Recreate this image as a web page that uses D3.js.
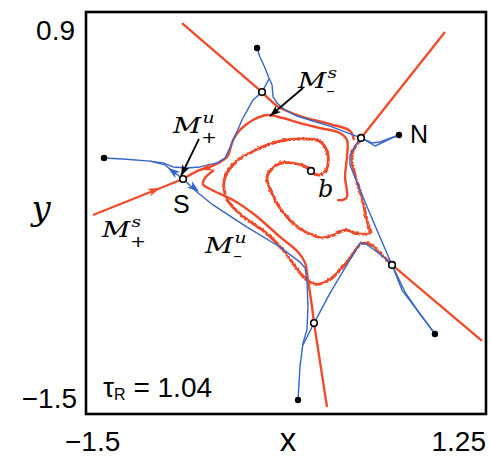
<!DOCTYPE html>
<html>
<head>
<meta charset="utf-8">
<script src="https://cdn.jsdelivr.net/npm/d3@7"></script>
<style>
body{margin:0;background:#fff;}
text{font-family:"Liberation Sans",Arial,sans-serif;}
</style>
</head>
<body>
<svg id="chart" width="491" height="458"></svg>
<script>
// axis ranges and tick labels
const xDomain = [-1.5, 1.25];
const yDomain = [-1.5, 0.9];
const xTickLabels = ["\u22121.5", "1.25"];
const yTickLabels = ["0.9", "\u22121.5"];
const tauR = "1.04";

// fixed points
const saddles = [[-0.29,0.422],[0.391,0.148],[0.604,-0.61],[0.0675,-0.957],[-0.833,-0.097]];
const sinks = [[-0.324,0.685],[0.652,0.166],[-1.376,0.028],[0.899,-1.022],[-0.0425,-1.416]];
const focusB = [0.047,-0.049];

// stable manifolds, outward branches (red)
const stableOutA = [[-0.84,0.834],[-0.29,0.422]];
const stableOutB = [[0.391,0.148],[0.968,0.781]];
const stableOutC = [[0.604,-0.61],[1.2225,-1.064]];
const stableOutD = [[0.0675,-0.957],[0.157,-1.458]];
const stableOutS = [[-1.452,-0.312],[-0.833,-0.097]];

// stable manifolds, inward branches spiralling from b (red)
const stableInS = [[-0.833,-0.097],[-0.716,-0.043],[-0.6475,-0.025],[-0.531,0.034],[-0.489,0.136],[-0.441,0.196],
  [-0.352,0.255],[-0.256,0.285],[-0.146,0.267],[-0.029,0.237],[0.109,0.207],[0.246,0.178],[0.294,0.136],
  [0.294,0.034],[0.281,-0.085],[0.294,-0.204],[0.267,-0.222],[0.226,-0.222]];
const stableInA = [[-0.29,0.422],[-0.235,0.375],[-0.187,0.339],[-0.118,0.309],[-0.008,0.273],[0.1775,0.231],
  [0.315,0.19],[0.3425,0.136]];
const stableInB = [[0.391,0.148],[0.3425,0.1],[0.322,0.04],[0.336,-0.043],[0.384,-0.181],[0.439,-0.384],
  [0.4525,-0.413],[0.363,-0.419],[0.281,-0.396],[0.198,-0.425],[0.1225,-0.443],[0.047,-0.425],[-0.0425,-0.384],
  [-0.118,-0.324],[-0.187,-0.246],[-0.235,-0.163],[-0.2625,-0.085],[-0.228,-0.031],[-0.166,0.004],
  [-0.084,0.004],[-0.008,-0.013],[0.047,-0.049]];
const stableInC = [[0.604,-0.61],[0.521,-0.539],[0.439,-0.479],[0.384,-0.479],[0.294,-0.581],[0.157,-0.7],
  [0.061,-0.718],[-0.029,-0.658],[-0.146,-0.521],[-0.269,-0.413],[-0.421,-0.318],[-0.531,-0.222],
  [-0.558,-0.103],[-0.489,-0.001],[-0.352,0.076],[-0.166,0.136],[-0.029,0.148],[0.095,0.136],[0.15,0.076],
  [0.157,-0.001],[0.136,-0.055],[0.088,-0.067],[0.047,-0.049]];
const stableInD = [[0.0675,-0.957],[0.054,-0.861],[0.026,-0.7],[0.006,-0.598],[-0.0425,-0.533],[-0.166,-0.443],
  [-0.338,-0.312],[-0.489,-0.222],[-0.634,-0.163],[-0.696,-0.127],[-0.682,-0.091],[-0.62,-0.043]];

// unstable manifolds (blue)
const unstableTop = [[-0.324,0.685],[-0.304,0.631],[-0.269,0.566],[-0.242,0.506],[-0.221,0.464],[-0.214,0.393],
  [-0.187,0.357],[-0.132,0.315],[-0.049,0.279],[0.061,0.249],[0.1775,0.219],[0.281,0.184],[0.391,0.148]];
const unstableAUp = [[-0.29,0.422],[-0.242,0.5]];
const unstableLeft = [[-1.376,0.028],[-1.246,0.022],[-1.06,0.01],[-0.971,-0.001],[-0.902,-0.025],[-0.806,-0.031],
  [-0.716,-0.025],[-0.599,-0.001],[-0.544,0.028],[-0.496,0.118],[-0.4275,0.255],[-0.352,0.375],[-0.29,0.422]];
const unstablePlus = [[-0.833,-0.097],[-0.888,-0.061],[-0.957,-0.013],[-1.06,0.01]];
const unstableMinus = [[-0.833,-0.097],[-0.737,-0.175],[-0.627,-0.252],[-0.393,-0.384],[-0.166,-0.503],
  [-0.029,-0.593],[0.006,-0.628],[0.019,-0.7],[0.026,-0.861],[0.019,-0.998],[-0.008,-1.076],[-0.029,-1.219],
  [-0.0425,-1.416]];
const unstableRight = [[0.391,0.148],[0.349,0.1],[0.315,0.046],[0.315,-0.013],[0.404,-0.204],[0.5,-0.401],
  [0.604,-0.61],[0.6725,-0.76],[0.776,-0.879],[0.899,-1.022]];
const unstableBottom = [[-0.008,-1.088],[0.0675,-0.957],[0.1775,-0.778],[0.281,-0.628],[0.384,-0.479],
  [0.425,-0.485],[0.521,-0.545],[0.604,-0.61],[0.693,-0.772],[0.796,-0.903],[0.899,-1.022]];
const unstableN = [[0.391,0.148],[0.466,0.118],[0.521,0.124],[0.652,0.166]];
const unstableN2 = [[0.391,0.148],[0.488,0.1],[0.576,0.136],[0.652,0.166]];

// flow arrows: [at, from]
const redArrows = [[[-0.991,-0.151],[-1.452,-0.312]],[[-0.716,-0.043],[-0.6475,-0.025]]];
const blueArrows = [[[-0.936,-0.031],[-0.833,-0.097]],[[-0.723,-0.175],[-0.833,-0.097]]];
// pointer arrows for the labels: [start, end]
const pointerMsMinus = [[-0.008,0.446],[-0.235,0.279]];
const pointerMuPlus = [[-0.723,0.142],[-0.847,-0.079]];

const RED = "#ef4b2a", BLUE = "#3565c9";
const W = 491, H = 458;
const margin = {left:86, top:12, right:5, bottom:44};
const svg = d3.select("#chart");
const x = d3.scaleLinear().domain(xDomain).range([margin.left, W - margin.right]);
const y = d3.scaleLinear().domain(yDomain).range([H - margin.bottom, margin.top]);

const defs = svg.append("defs");
defs.append("clipPath").attr("id","frameClip").append("rect")
  .attr("x",x(xDomain[0])).attr("y",y(yDomain[1]))
  .attr("width",x(xDomain[1])-x(xDomain[0])).attr("height",y(yDomain[0])-y(yDomain[1]));
let wig = defs.append("filter").attr("id","wiggle").attr("x","-5%").attr("y","-5%").attr("width","110%").attr("height","110%");
wig.append("feTurbulence").attr("type","turbulence").attr("baseFrequency","0.3").attr("numOctaves",1).attr("seed",3).attr("result","t");
wig.append("feDisplacementMap").attr("in","SourceGraphic").attr("in2","t").attr("scale",2.2)
  .attr("xChannelSelector","R").attr("yChannelSelector","G");

const line = d3.line().x(d => x(d[0])).y(d => y(d[1]));
const smooth = d3.line().x(d => x(d[0])).y(d => y(d[1])).curve(d3.curveCatmullRom.alpha(0.5));

const plot = svg.append("g").attr("clip-path","url(#frameClip)");

// red straight branches
plot.append("g").selectAll("path")
  .data([stableOutA, stableOutB, stableOutC, stableOutD, stableOutS])
  .enter().append("path")
    .attr("d", line).attr("fill","none").attr("stroke",RED).attr("stroke-width",2.3);

// red spirals
plot.append("g").attr("filter","url(#wiggle)").selectAll("path")
  .data([stableInB, stableInC])
  .enter().append("path")
    .attr("d", smooth).attr("fill","none").attr("stroke",RED).attr("stroke-width",2.9);
plot.append("g").selectAll("path")
  .data([stableInS, stableInA, stableInD])
  .enter().append("path")
    .attr("d", smooth).attr("fill","none").attr("stroke",RED).attr("stroke-width",2.4);

// blue
plot.append("g").selectAll("path")
  .data([unstableTop, unstableAUp, unstableLeft, unstablePlus, unstableMinus, unstableRight, unstableBottom, unstableN, unstableN2])
  .enter().append("path")
    .attr("d", line).attr("fill","none").attr("stroke",BLUE).attr("stroke-width",1.4)
    .attr("stroke-linejoin","round");

const head = (g, at, from, color, len, wid) => {
  let px = x(at[0]), py = y(at[1]);
  let ang = Math.atan2(py - y(from[1]), px - x(from[0])) * 180 / Math.PI;
  g.append("path")
    .attr("d", `M0,0 L${-len},${-wid/2} L${-len*0.75},0 L${-len},${wid/2} Z`)
    .attr("transform", `translate(${px},${py}) rotate(${ang})`)
    .attr("fill", color);
};
const arrowsG = svg.append("g");
redArrows.forEach(a => head(arrowsG, a[0], a[1], RED, 12, 8));
blueArrows.forEach(a => head(arrowsG, a[0], a[1], BLUE, 12, 8));

[pointerMsMinus, pointerMuPlus].forEach(p => {
  arrowsG.append("line")
    .attr("x1",x(p[0][0])).attr("y1",y(p[0][1]))
    .attr("x2",x(p[1][0])).attr("y2",y(p[1][1]))
    .attr("stroke","#000").attr("stroke-width",1.8);
  head(arrowsG, p[1], p[0], "#000", 11, 8);
});

// points
svg.append("g").selectAll("circle").data(sinks).enter().append("circle")
  .attr("cx", d => x(d[0])).attr("cy", d => y(d[1])).attr("r",3.2).attr("fill","#000");
svg.append("g").selectAll("circle").data(saddles.concat([focusB])).enter().append("circle")
  .attr("cx", d => x(d[0])).attr("cy", d => y(d[1])).attr("r",3.3)
  .attr("fill","#fff").attr("stroke","#000").attr("stroke-width",1.6);

// frame
svg.append("rect")
  .attr("x",x(xDomain[0])).attr("y",y(yDomain[1]))
  .attr("width",x(xDomain[1])-x(xDomain[0])).attr("height",y(yDomain[0])-y(yDomain[1]))
  .attr("fill","none").attr("stroke","#000").attr("stroke-width",2.6);

// tick labels
const tickSize = 28;
svg.append("text").attr("x",x(xDomain[0]) - 21).attr("y",451).attr("font-size",tickSize).text(xTickLabels[0]);
svg.append("text").attr("x",x(xDomain[1])).attr("y",451).attr("font-size",tickSize).attr("text-anchor","end").text(xTickLabels[1]);
svg.append("text").attr("x",x(xDomain[0]) - 11).attr("y",y(yDomain[1]) + 28).attr("font-size",tickSize).attr("text-anchor","end").text(yTickLabels[0]);
svg.append("text").attr("x",x(xDomain[0]) - 9).attr("y",y(yDomain[0]) - 6).attr("font-size",tickSize).attr("text-anchor","end").text(yTickLabels[1]);

// axis titles
svg.append("text").attr("x",(x(xDomain[0]) + x(xDomain[1])) / 2 + 2).attr("y",451)
  .attr("font-size",33).attr("text-anchor","middle").text("x");
svg.append("text").attr("x",41).attr("y",220)
  .attr("font-size",34).attr("text-anchor","middle")
  .style("font-family","'DejaVu Serif',serif").style("font-style","italic").text("y");

// point labels
const lab = (px, py, txt, size, italic) => {
  let t = svg.append("text").attr("x",px).attr("y",py).attr("font-size",size).text(txt);
  if (italic) t.style("font-family","'DejaVu Serif',serif").style("font-style","italic");
  return t;
};
lab(x(saddles[4][0]) - 10, y(saddles[4][1]) + 34, "S", 25, false);
lab(x(sinks[1][0]) + 11, y(sinks[1][1]) + 8, "N", 25, false);
lab(x(focusB[0]) + 7, y(focusB[1]) + 26, "b", 24, true);

// manifold labels: M with stacked super/subscript in one text element
const mLabel = (px, py, sup, sub) => {
  let t = svg.append("text")
    .attr("transform", `translate(${px},${py}) scale(1.25,1)`)
    .style("font-family","'DejaVu Serif',serif");
  t.append("tspan").attr("font-size",22).style("font-style","italic").text("M");
  let s = t.append("tspan").attr("font-size",15).attr("dx",1).attr("dy",-10).style("font-style","italic").text(sup);
  let w = s.node().getComputedTextLength();
  let plus = sub === "+";
  t.append("tspan").attr("font-size",plus ? 15 : 14).attr("dx",-w - 1)
    .attr("dy", plus ? 20 : 18).style("font-family","'DejaVu Sans',sans-serif").text(plus ? "+" : "\u2013");
};
mLabel(x(pointerMsMinus[0][0]) - 5, y(pointerMsMinus[0][1]), "s", "-");
mLabel(x(pointerMuPlus[0][0]) - 26, y(pointerMuPlus[0][1]) - 6, "u", "+");
mLabel(x(stableOutS[0][0]) + 9, y(stableOutS[0][1]) + 22, "s", "+");
mLabel(x(saddles[4][0]) + 22, y(saddles[4][1]) + 74, "u", "-");

// tau_R
const tau = svg.append("text").attr("x",x(xDomain[0]) + 17).attr("y",y(yDomain[0]) - 17).attr("font-size",28);
tau.append("tspan").text("\u03c4");
tau.append("tspan").attr("font-size",16).attr("dy",3).text("R");
tau.append("tspan").attr("dy",-3).text(" = " + tauR);
</script>
</body>
</html>
